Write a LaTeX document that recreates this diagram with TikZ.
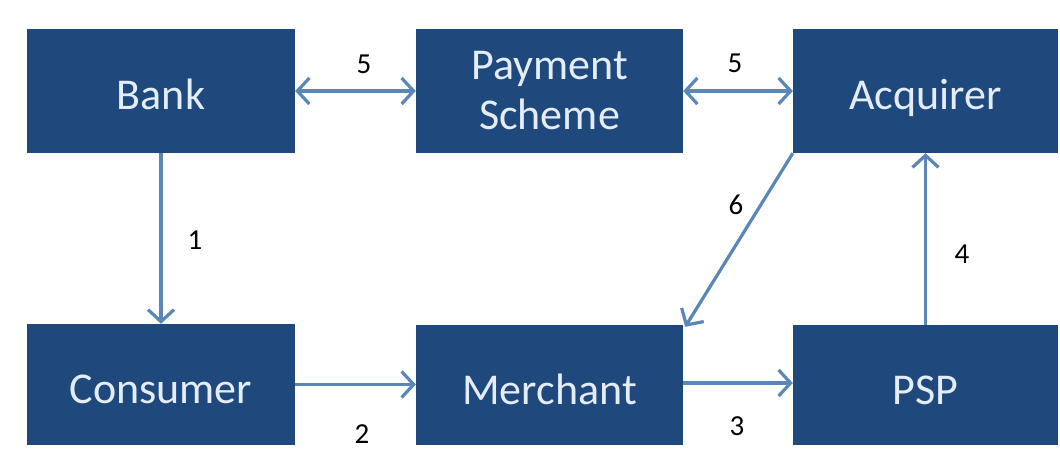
\documentclass[tikz,border=0pt]{standalone}
\usepackage{fontspec}
\setmainfont{Carlito}
\usetikzlibrary{arrows.meta}
\definecolor{boxblue}{HTML}{1F497D}
\definecolor{boxtext}{HTML}{E3ECF7}
\definecolor{flow}{HTML}{5A86B8}
\begin{document}
\begin{tikzpicture}[x=1pt,y=-1pt,
  party/.style={rectangle, fill=boxblue, draw=none, text=boxtext,
    align=center, inner sep=0pt,
    font=\fontsize{44}{50}\selectfont},
  oneline/.style={text height=40pt, text depth=2pt},
  tip/.tip={Straight Barb[length=12pt,width=26pt,line width=3.2pt]},
  flowline/.style={draw=flow, line width=3.2pt, -tip},
  both/.style={flowline, tip-tip},
  step label/.style={font=\fontsize{29}{32}\selectfont, text=black, inner sep=0pt}]
\useasboundingbox (0,0) rectangle (1060,449);
\fill[white] (0,0) rectangle (1060,449);

% parties
\node[party, oneline, minimum width=268pt, minimum height=124pt] (bank) at (161,91) {Bank};
\node[party, minimum width=267pt, minimum height=124pt] (scheme) at (549.5,91) {Payment\\Scheme};
\node[party, oneline, minimum width=265pt, minimum height=124pt] (acq) at (925.5,91) {Acquirer};
\node[party, oneline, minimum width=268pt, minimum height=121pt] (cons) at (161,384.5) {Consumer};
\node[party, oneline, minimum width=267pt, minimum height=120pt] (merch) at (549.5,385) {Merchant};
\node[party, oneline, minimum width=265pt, minimum height=120pt] (psp) at (925.5,385) {PSP};

% flows
\draw[both] (bank.east) -- (scheme.west);
\draw[both] (scheme.east) -- (acq.west);
\draw[flowline] (bank.south) -- (cons.north);
\draw[flowline] (cons.east) -- (cons.east -| merch.west);
\draw[flowline] ([yshift=2pt]merch.east) -- ([yshift=2pt]merch.east -| psp.west);
\draw[flowline] (psp.north) -- (acq.south);
\draw[flowline] (acq.south west) -- ([shift={(2pt,-2pt)}]merch.north east);

% step numbers
\node[step label] (l5a) at (364,64) {5};
\node[step label] (l5b) at (735,63) {5};
\node[step label] (l1) at (195,240) {1};
\node[step label] (l2) at (362,434) {2};
\node[step label] (l3) at (737,426) {3};
\node[step label] (l4) at (962,254) {4};
\node[step label] (l6) at (736,205) {6};
\end{tikzpicture}
\end{document}
